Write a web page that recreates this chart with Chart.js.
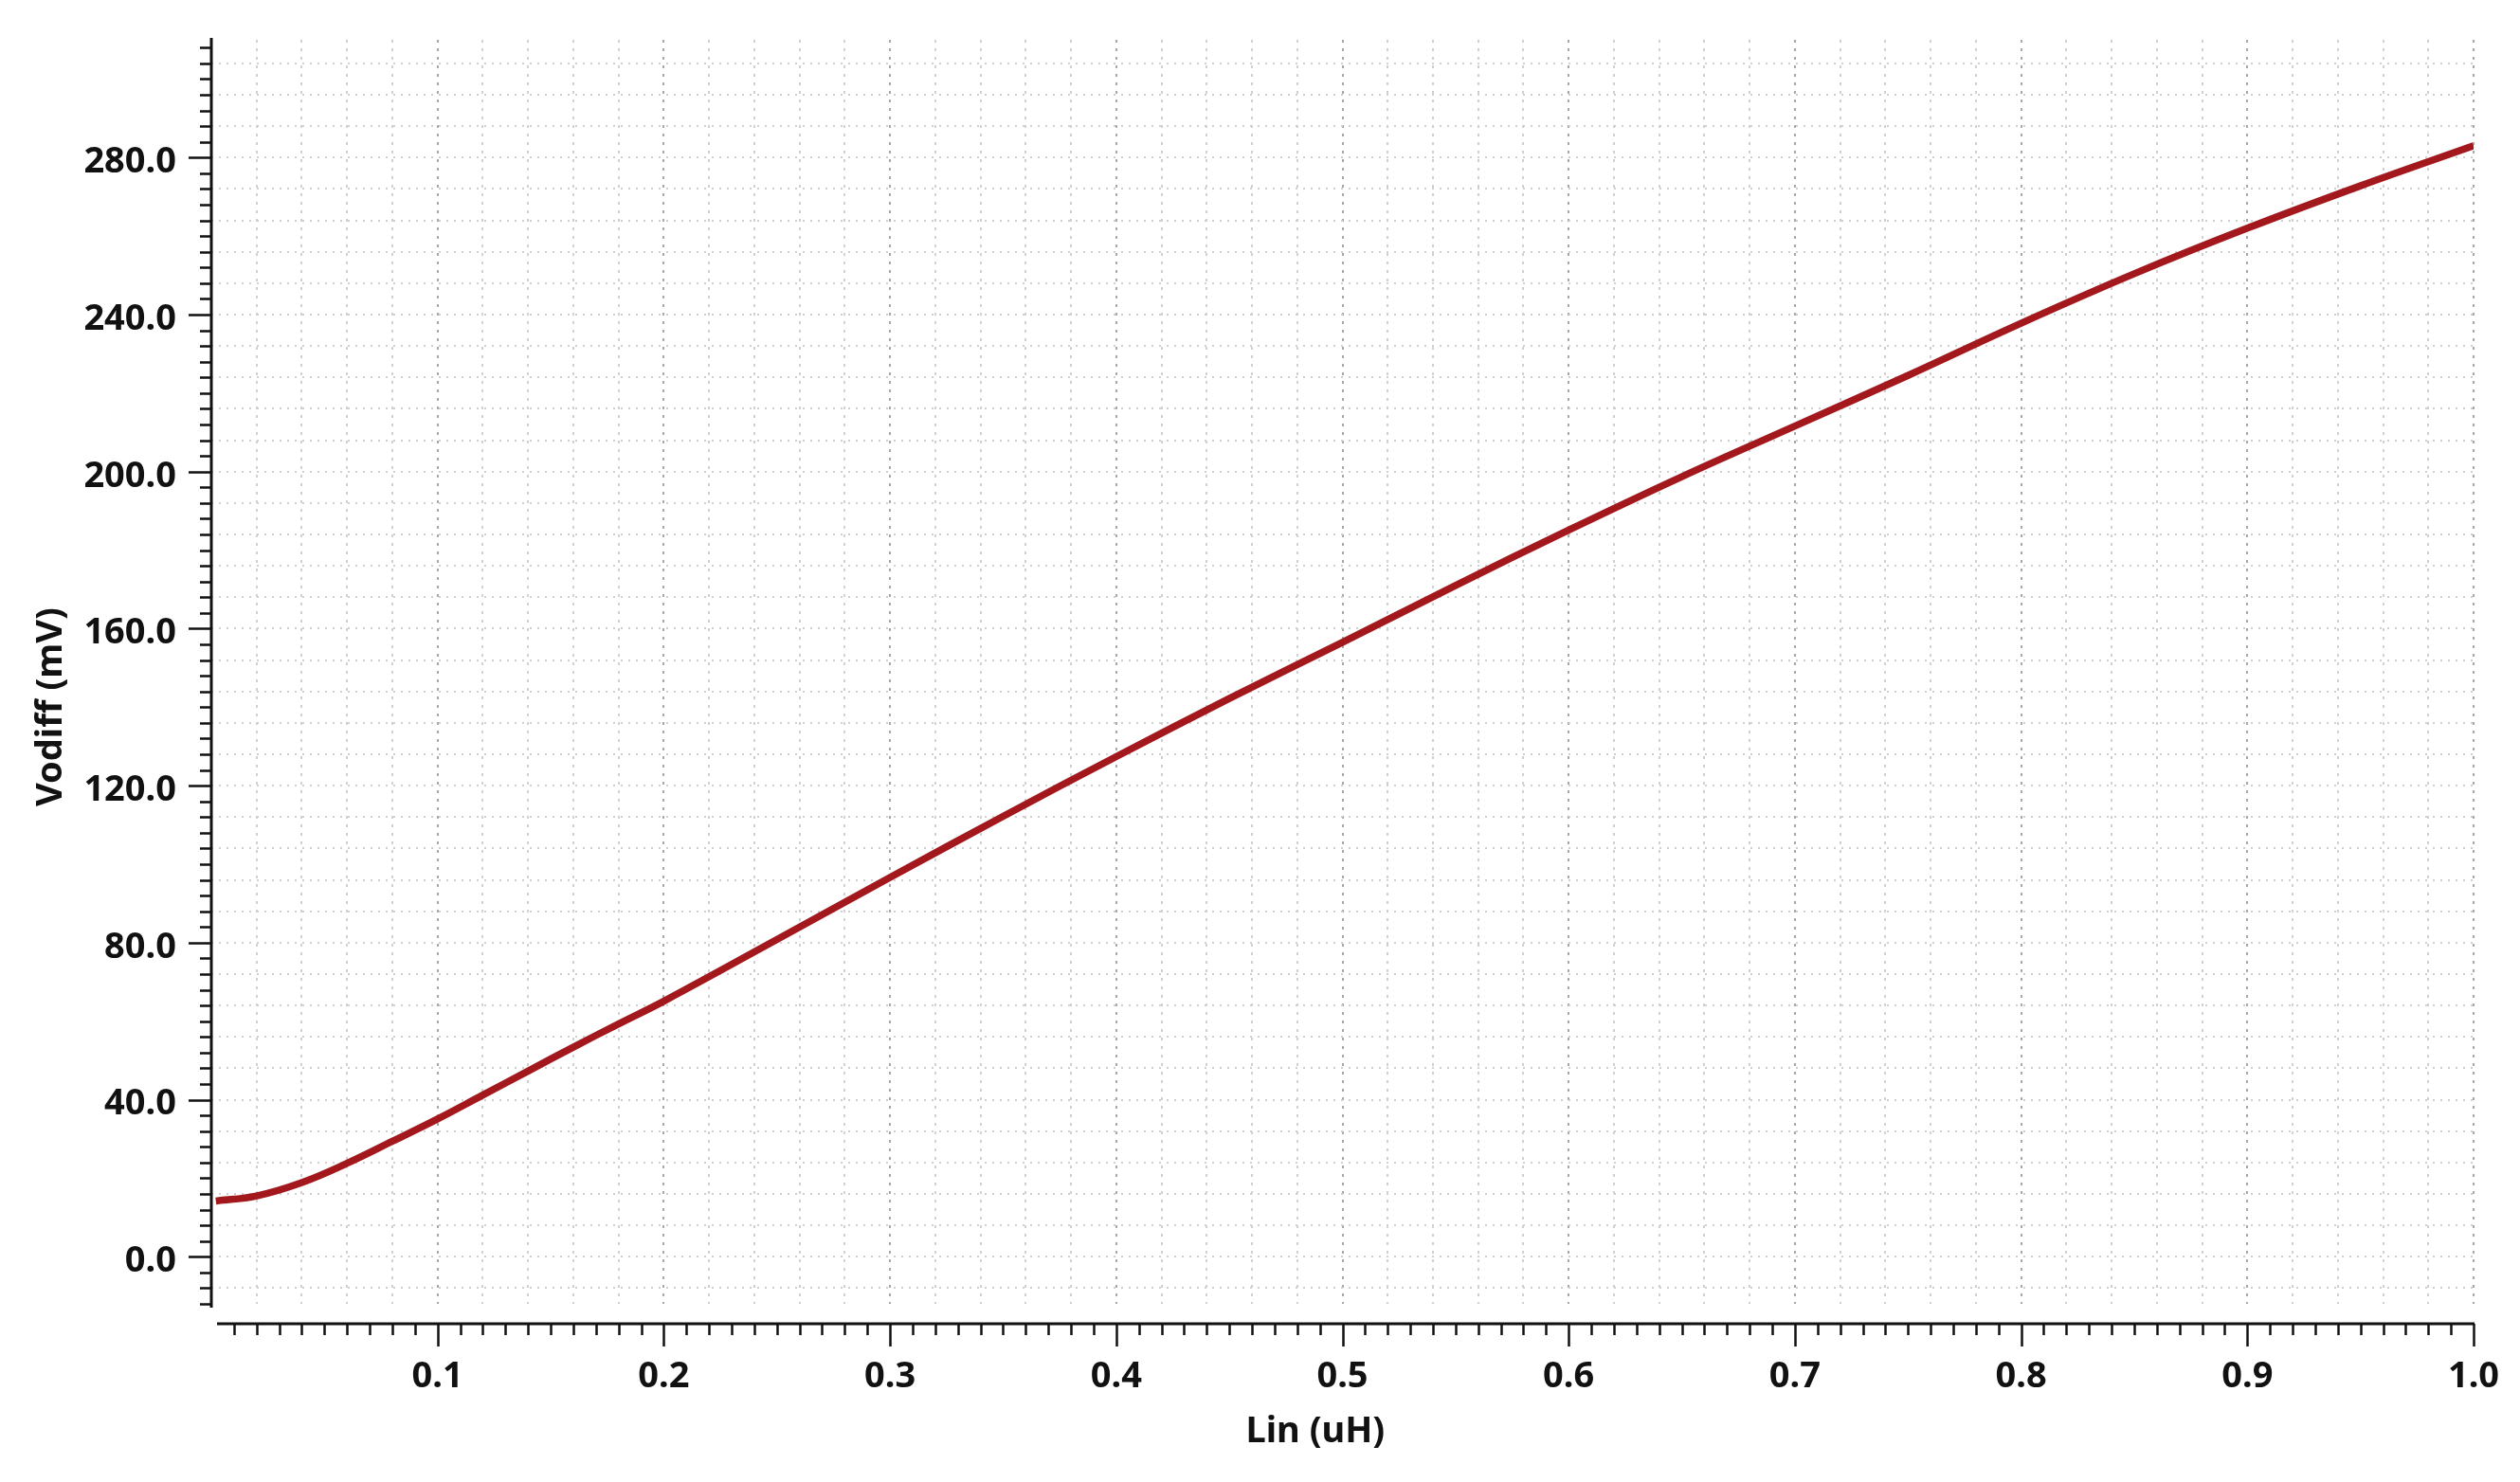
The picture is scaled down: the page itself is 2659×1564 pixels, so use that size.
<!DOCTYPE html>
<html>
<head>
<meta charset="UTF-8">
<title>Vodiff vs Lin</title>
<script src="https://cdn.jsdelivr.net/npm/chart.js@4.4.1/dist/chart.umd.min.js"></script>
<style>
  html, body { margin: 0; padding: 0; background: #fff; }
  #wrap { width: 2659px; height: 1564px; }
</style>
</head>
<body>
<div id="wrap"><canvas id="chart" width="2659" height="1564"></canvas></div>
<script>
// sweep of Lin (uH) and the differential output (mV)
const lin    = [0.002, 0.02, 0.04, 0.06, 0.08, 0.10, 0.12, 0.14, 0.16, 0.18, 0.20,
                0.25, 0.30, 0.35, 0.40, 0.45, 0.50, 0.55, 0.60, 0.65, 0.70,
                0.75, 0.80, 0.85, 0.90, 0.95, 1.00];
const vodiff = [14.2, 15.5, 18.9, 23.8, 29.4, 35.1, 41.2, 47.3, 53.4, 59.3, 65.1,
                80.8, 96.6, 112.2, 127.4, 142.2, 156.5, 171.0, 185.1, 198.7, 211.6,
                224.5, 237.8, 250.4, 262.0, 272.8, 283.0];

const xLabels = ['0.1', '0.2', '0.3', '0.4', '0.5', '0.6', '0.7', '0.8', '0.9', '1.0'];
const yLabels = ['0.0', '40.0', '80.0', '120.0', '160.0', '200.0', '240.0', '280.0'];
const xTitle = 'Lin (uH)';
const yTitle = 'Vodiff (mV)';

const lineColor = '#a3181c';
const inkColor = '#111111';
const fontFamily = "'Noto Sans', 'Open Sans', sans-serif";

Chart.defaults.font.family = fontFamily;
Chart.defaults.font.weight = 'bold';
Chart.defaults.font.size = 38;
Chart.defaults.color = inkColor;

// axis lines, tick marks and axis titles, placed like the original
const axesPlugin = {
  id: 'axes',
  afterDraw(chart) {
    const {ctx, chartArea, scales: {x, y}} = chart;
    ctx.save();
    ctx.strokeStyle = inkColor;

    // y axis
    const ax = chartArea.left;
    ctx.lineWidth = 3;
    ctx.beginPath();
    ctx.moveTo(ax, y.top - 2);
    ctx.lineTo(ax, y.bottom + 4);
    ctx.stroke();
    ctx.lineWidth = 2.5;
    y.ticks.forEach(t => {
      const py = Math.round(y.getPixelForValue(t.value)) + 0.5;
      const len = Math.round(t.value) % 40 === 0 ? 24 : 12;
      ctx.beginPath();
      ctx.moveTo(ax - len, py);
      ctx.lineTo(ax, py);
      ctx.stroke();
    });

    // x axis
    const ay = chartArea.bottom + 21;
    ctx.lineWidth = 3;
    ctx.beginPath();
    ctx.moveTo(x.left + 6, ay);
    ctx.lineTo(x.right + 1, ay);
    ctx.stroke();
    ctx.lineWidth = 2.5;
    x.ticks.forEach(t => {
      const k = Math.round(t.value * 100);
      if (k === 0) return;
      const px = Math.round(x.getPixelForValue(t.value)) + 0.5;
      const len = k % 10 === 0 ? 24 : 12;
      ctx.beginPath();
      ctx.moveTo(px, ay);
      ctx.lineTo(px, ay + len);
      ctx.stroke();
    });

    // titles
    ctx.fillStyle = inkColor;
    ctx.font = 'bold 38px ' + fontFamily;
    ctx.textAlign = 'center';
    ctx.textBaseline = 'middle';
    ctx.fillText(xTitle, chartArea.left + (chartArea.right - chartArea.left) * 0.488, chart.height - 53);
    ctx.translate(54, (chartArea.top + chartArea.bottom) / 2 + 37);
    ctx.rotate(-Math.PI / 2);
    ctx.fillText(yTitle, 0, 0);
    ctx.restore();
  }
};

const noPad = s => { s.paddingLeft = 0; s.paddingRight = 0; s.paddingTop = 0; s.paddingBottom = 0; };

new Chart(document.getElementById('chart'), {
  type: 'line',
  data: {
    datasets: [{
      data: lin.map((v, i) => ({x: v, y: vodiff[i]})),
      borderColor: lineColor,
      borderWidth: 7.5,
      pointRadius: 0,
      tension: 0.4,
      fill: false
    }]
  },
  options: {
    responsive: false,
    devicePixelRatio: 1,
    animation: false,
    layout: { padding: { left: 0, right: 49, top: 42, bottom: 0 } },
    plugins: { legend: { display: false }, tooltip: { enabled: false } },
    scales: {
      x: {
        type: 'linear',
        min: 0,
        max: 1,
        afterFit: s => { s.height = 188; noPad(s); },
        border: { display: false, dash: [3, 6] },
        grid: {
          drawTicks: false,
          lineWidth: 2,
          color: c => {
            const k = Math.round(c.tick.value * 100);
            if (k % 2 !== 0) return 'rgba(0,0,0,0)';
            return k % 10 === 0 ? '#a8a8a8' : '#d0d0d0';
          }
        },
        ticks: {
          stepSize: 0.01,
          autoSkip: false,
          maxRotation: 0,
          padding: 54,
          callback: v => {
            const k = Math.round(v * 100);
            const s = (k / 100).toFixed(1);
            return k % 10 === 0 && xLabels.includes(s) ? s : '';
          }
        },
        title: { display: false }
      },
      y: {
        min: -12,
        max: 310,
        afterFit: s => { s.width = 223; noPad(s); },
        border: { display: false, dash: [2, 6] },
        grid: {
          drawTicks: false,
          lineWidth: 2,
          color: c => Math.round(c.tick.value) % 8 === 0 ? '#d0d0d0' : 'rgba(0,0,0,0)'
        },
        ticks: {
          stepSize: 4,
          includeBounds: false,
          autoSkip: false,
          padding: 37,
          labelOffset: 5,
          callback: v => {
            const s = Number(v).toFixed(1);
            return Math.round(v) % 40 === 0 && yLabels.includes(s) ? s : '';
          }
        },
        title: { display: false }
      }
    }
  },
  plugins: [axesPlugin]
});
</script>
</body>
</html>
